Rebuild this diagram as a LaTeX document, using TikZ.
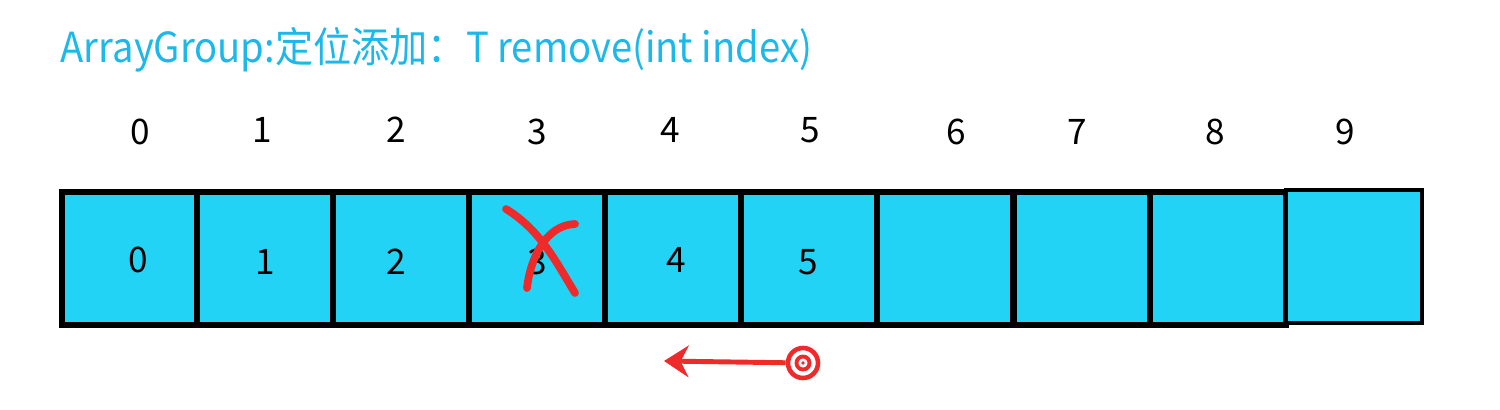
\documentclass[tikz,border=0pt]{standalone}
\usepackage{fontspec}
\setmainfont{Noto Sans CJK SC}
\usepackage{tikz}
\usetikzlibrary{arrows.meta}
\definecolor{cellblue}{HTML}{22D3F5}
\definecolor{titleblue}{HTML}{1DB8EA}
\definecolor{penred}{HTML}{EE2A2A}

\begin{document}
\begin{tikzpicture}[x=0.01cm,y=-0.01cm,
    cell/.style={draw=black,line width=1.6pt,fill=cellblue,minimum width=1.36cm,minimum height=1.33cm,inner sep=0},
    idx/.style={font=\fontsize{10}{12}\selectfont},
    val/.style={font=\fontsize{10}{12}\selectfont}]
        \useasboundingbox (0,0) rectangle (1500,409);
        \node[anchor=west,text=titleblue,inner sep=0,font=\fontsize{11.8}{14}\selectfont] (title) at (60,50) {\scalebox{0.92}[1]{ArrayGroup:定位添加：T remove(int index)}};
        \node[cell] (c0) at (130,258.5) {};
        \node[cell] (c1) at (265,258.5) {};
        \node[cell] (c2) at (401,258.5) {};
        \node[cell] (c3) at (537,258.5) {};
        \node[cell] (c4) at (673,258.5) {};
        \node[cell] (c5) at (809,258.5) {};
        \node[cell] (c6) at (945,258.5) {};
        \node[cell] (c7) at (1082,258.5) {};
        \node[cell] (c8) at (1218,258.5) {};
        \node[cell,line width=1.2pt] (c9) at (1354,256.5) {};
        % indices above the cells
        \node[idx] (i0) at (140,132) {0};
        \node[idx] (i1) at (262,130) {1};
        \node[idx] (i2) at (396,130) {2};
        \node[idx] (i3) at (537,132) {3};
        \node[idx] (i4) at (670,130) {4};
        \node[idx] (i5) at (810,130) {5};
        \node[idx] (i6) at (956,132) {6};
        \node[idx] (i7) at (1077,132) {7};
        \node[idx] (i8) at (1215,132) {8};
        \node[idx] (i9) at (1345,132) {9};
        % values in the cells
        \node[val] (v0) at (138,260) {0};
        \node[val] (v1) at (265,262) {1};
        \node[val] (v2) at (396,262) {2};
        \node[val] (v3) at (537,262) {3};
        \node[val] (v4) at (676,260) {4};
        \node[val] (v5) at (808,262) {5};
        % crossed out
        \draw[penred,line width=2.2pt,line cap=round] (506,209) .. controls (540,230) and (555,260) .. (575,293);
        \draw[penred,line width=2.2pt,line cap=round] (575,224) .. controls (545,225) and (530,260) .. (527,288);
        % shift to the left
        \node[draw=penred,circle,line width=1.3pt,minimum size=0.3cm,inner sep=0] (start) at (803,363) {};
        \node[draw=penred,circle,line width=1.1pt,minimum size=0.13cm,inner sep=0] (ring) at (start) {};
        \fill[penred] (start) circle (1.8);
        \coordinate (end) at (664,361);
        \draw[penred,line width=1.4pt,-{Stealth[length=7pt,width=9pt]}] (start) -- (end);
      \end{tikzpicture}
\end{document}
